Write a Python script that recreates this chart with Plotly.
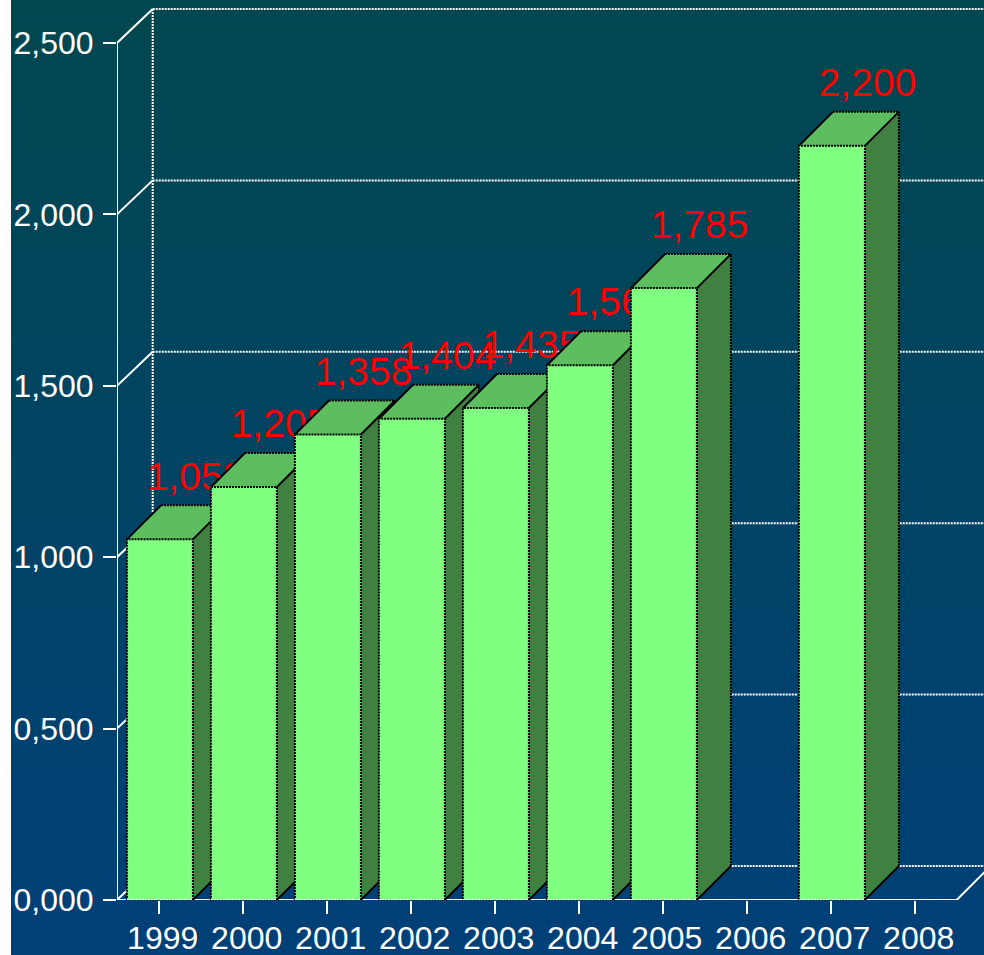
import plotly.graph_objects as go

# Annual values, in the order of the category axis; None means no bar that year
years = [1999, 2000, 2001, 2002, 2003, 2004, 2005, 2006, 2007, 2008]
values = [1052, 1205, 1358, 1404, 1435, 1560, 1785, None, 2200, None]
y_ticks = [0, 500, 1000, 1500, 2000, 2500]
y_tick_labels = ["0,000", "0,500", "1,000", "1,500", "2,000", "2,500"]

# Canvas and plot frame, in pixels
WIDTH, HEIGHT = 984, 955
LEFT, BOTTOM_MARGIN = 117, 55
PX_PER_YEAR = 84.0
PX_PER_UNIT = 0.3428
FIRST_TICK_PX = 158.7
PLOT_H = HEIGHT - BOTTOM_MARGIN
PLOT_W = WIDTH - LEFT

x_range = [years[0] + (LEFT - FIRST_TICK_PX) / PX_PER_YEAR,
           years[0] + (WIDTH - FIRST_TICK_PX) / PX_PER_YEAR]
y_range = [0, PLOT_H / PX_PER_UNIT]

# Oblique projection used for the depth of the box
DEPTH_X = 34 / PX_PER_YEAR
DEPTH_Y = 34 / PX_PER_UNIT
WALL_DEPTH_X = 35.7 / PX_PER_YEAR
BAR_W = 66 / PX_PER_YEAR
BAR_SHIFT = 1.2 / PX_PER_YEAR
LABEL_GAP = 6 / PX_PER_UNIT
LABEL_SHIFT = 1.5 / PX_PER_YEAR
X_END = years[-1] + 0.5

FRONT, TOP, SIDE = "#80ff80", "#5dbe60", "#408040"
WHITE, BLACK, RED = "#ffffff", "#000000", "#ff0000"
DOTS = "2px,1px"
FONT = "Liberation Sans, Arial, sans-serif"

fig = go.Figure()


def add_line(xs, ys, color=WHITE, dash="solid", width=2):
    fig.add_trace(go.Scatter(x=xs, y=ys, mode="lines", cliponaxis=False,
                             line=dict(color=color, dash=dash, width=width),
                             hoverinfo="skip", showlegend=False))


def add_face(xs, ys, fill, dash=None):
    line = dict(color=BLACK, dash=dash, width=2) if dash else dict(width=0)
    fig.add_trace(go.Scatter(x=xs, y=ys, mode="lines", fill="toself", fillcolor=fill,
                             line=line, cliponaxis=False,
                             hoverinfo="skip", showlegend=False))


# Back wall and floor grid
wall_left = x_range[0] + WALL_DEPTH_X
far_right = X_END + DEPTH_X
for tick in y_ticks:
    add_line([wall_left, far_right], [tick + DEPTH_Y] * 2, dash=DOTS)
    add_line([x_range[0], wall_left], [tick, tick + DEPTH_Y])
add_line([wall_left, wall_left], [DEPTH_Y, y_ticks[-1] + DEPTH_Y], dash=DOTS)

# Left axis and front floor edge
add_line([x_range[0], x_range[0]], [0, y_ticks[-1]])
add_line([x_range[0], X_END, X_END + DEPTH_X], [0, 0, DEPTH_Y])

# Boxes and their labels, back to front so later boxes hide earlier labels
for year, value in zip(years, values):
    if value is None:
        continue
    x0 = year + BAR_SHIFT - BAR_W / 2
    x1 = year + BAR_SHIFT + BAR_W / 2
    bx0, bx1 = x0 + DEPTH_X, x1 + DEPTH_X
    top_back = value + DEPTH_Y

    add_face([x1, bx1, bx1, x1, x1], [0, DEPTH_Y, top_back, value, 0], SIDE)
    add_face([x0, x1, bx1, bx0, x0], [value, value, top_back, top_back, value], TOP)
    add_line([bx0, bx1], [top_back, top_back], BLACK, DOTS)
    add_line([bx1, bx1], [DEPTH_Y, top_back], BLACK, DOTS)
    add_line([x0, bx0, None, x1, bx1, None, x1, bx1],
             [value, top_back, None, value, top_back, None, 0, DEPTH_Y], BLACK)
    add_face([x0, x1, x1, x0, x0], [0, 0, value, value, 0], FRONT, DOTS)
    add_line([x0, x1], [0, 0], WHITE, DOTS)

    fig.add_trace(go.Scatter(
        x=[year + BAR_SHIFT + DEPTH_X + LABEL_SHIFT], y=[top_back + LABEL_GAP],
        mode="text", text=[f"{value:,}"], textposition="top center",
        textfont=dict(color=RED, size=39, family=FONT),
        cliponaxis=False, hoverinfo="skip", showlegend=False))

# Vertical colour wash behind everything; each band runs to the bottom so no seams show
BANDS = 128
TOP_RGB = (1, 71, 79)
BOTTOM_RGB = (0, 64, 120)
wash_left = (11 - LEFT) / PLOT_W
wash_top = 1.0
wash_bottom = -BOTTOM_MARGIN / PLOT_H
shapes = []
for i in range(BANDS):
    t = i / (BANDS - 1)
    rgb = tuple(round(a + (b - a) * t) for a, b in zip(TOP_RGB, BOTTOM_RGB))
    y_hi = wash_top + (wash_bottom - wash_top) * i / BANDS
    shapes.append(dict(type="rect", xref="paper", yref="paper", layer="below",
                       x0=wash_left, x1=1.0, y0=wash_bottom, y1=y_hi,
                       fillcolor=f"rgb{rgb}", line=dict(width=0)))

fig.update_layout(
    width=WIDTH, height=HEIGHT,
    margin=dict(l=LEFT, r=0, t=0, b=BOTTOM_MARGIN, pad=0, autoexpand=False),
    paper_bgcolor=WHITE, plot_bgcolor="rgba(0,0,0,0)",
    showlegend=False, shapes=shapes,
    font=dict(family=FONT, color=WHITE),
    xaxis=dict(range=x_range, tickmode="array", tickvals=years,
               ticktext=[str(y) for y in years], ticks="outside", ticklen=13,
               tickwidth=2, tickcolor=WHITE, showgrid=False, zeroline=False,
               showline=False, ticklabelstandoff=-3, ticklabelshift=4,
               tickfont=dict(size=32, color=WHITE, family=FONT)),
    yaxis=dict(range=y_range, tickmode="array", tickvals=y_ticks,
               ticktext=y_tick_labels, ticks="outside", ticklen=13,
               tickwidth=2, tickcolor=WHITE, showgrid=False, zeroline=False,
               showline=False, ticklabelstandoff=3,
               tickfont=dict(size=32, color=WHITE, family=FONT)),
)

fig.write_html("out.html", config=dict(displayModeBar=False))
